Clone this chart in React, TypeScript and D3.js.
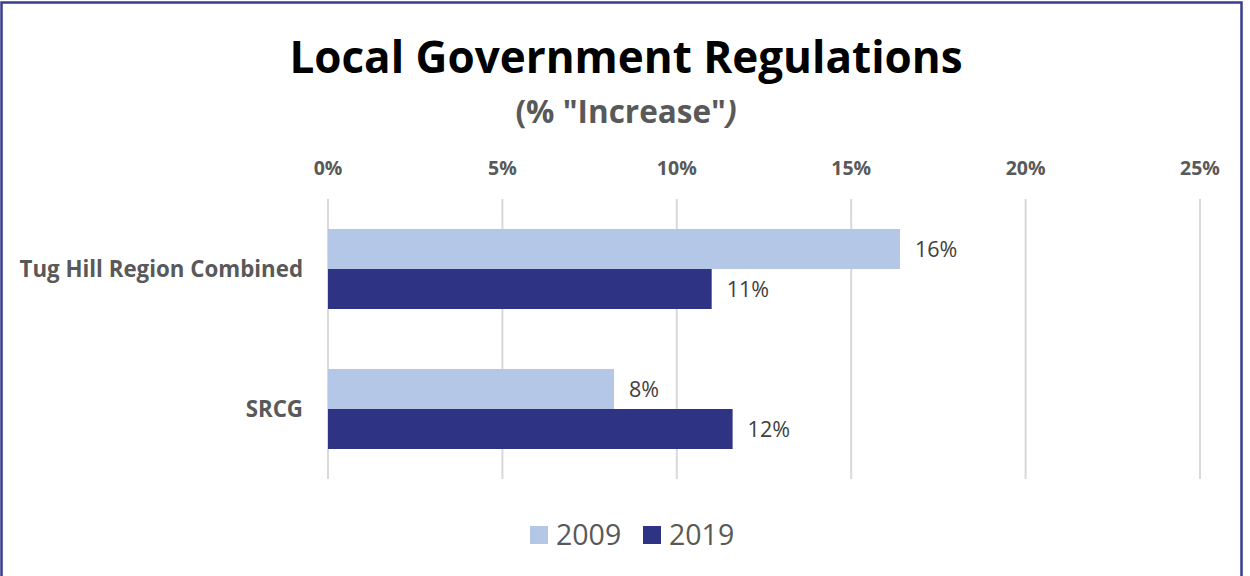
import React from "react";
import * as d3 from "d3";

const categories = ["Tug Hill Region Combined", "SRCG"];
const seriesNames = ["2009", "2019"];
const values2009 = [16.4, 8.2];
const values2019 = [11.0, 11.6];
const valueLabels2009 = ["16%", "8%"];
const valueLabels2019 = ["11%", "12%"];
const xTicks = [0, 5, 10, 15, 20, 25];
const colors = ["#B4C7E7", "#2E3383"];

const W = 1250;
const H = 576;
const FONT = "'Open Sans', 'Liberation Sans', sans-serif";

export default function App() {
  const x = d3.scaleLinear().domain([0, 25]).range([328, 1200]);
  const y0 = d3.scaleBand().domain(categories).range([199, 479]).paddingInner(0).paddingOuter(0);
  const bandPad = 30;
  const y1 = d3
    .scaleBand()
    .domain(seriesNames)
    .range([bandPad, y0.bandwidth() - bandPad]);
  const series = [values2009, values2019];
  const labels = [valueLabels2009, valueLabels2019];

  return (
    <svg width={W} height={H} style={{ position: "absolute", left: 0, top: 0 }}>
      <rect x={0} y={0} width={W} height={H} fill="#fff" />
      <rect x={1.5} y={2.5} width={1240} height={H + 10} fill="none" stroke="#383D8C" strokeWidth={2.5} />
      <text x={626} y={73} textAnchor="middle" fontFamily={FONT} fontWeight={700} fontSize={44} fill="#000">
        Local Government Regulations
      </text>
      <text x={626} y={123} textAnchor="middle" fontFamily={FONT} fontWeight={700} fontSize={31.5} fill="#595959">
        (% "Increase"<tspan fontStyle="italic">)</tspan>
      </text>
      {xTicks.map((t) => (
        <g key={t}>
          <line x1={x(t)} x2={x(t)} y1={199} y2={479} stroke="#D9D9D9" strokeWidth={2} />
          <text x={x(t)} y={175} textAnchor="middle" fontFamily={FONT} fontWeight={700} fontSize={19.5} fill="#595959">
            {t}%
          </text>
        </g>
      ))}
      {categories.map((c, ci) => (
        <g key={c} transform={`translate(0,${y0(c)})`}>
          <text
            x={303}
            y={y0.bandwidth() / 2}
            dy="0.35em"
            textAnchor="end"
            fontFamily={FONT}
            fontWeight={700}
            fontSize={22.3}
            fill="#595959"
          >
            {c}
          </text>
          {seriesNames.map((s, si) => (
            <g key={s}>
              <rect
                x={x(0)}
                y={y1(s)}
                width={x(series[si][ci]) - x(0)}
                height={y1.bandwidth()}
                fill={colors[si]}
              />
              <text
                x={x(series[si][ci]) + 15}
                y={(y1(s) as number) + y1.bandwidth() / 2}
                dy="0.35em"
                fontFamily={FONT}
                fontSize={21.5}
                fill="#404040"
              >
                {labels[si][ci]}
              </text>
            </g>
          ))}
        </g>
      ))}
      {seriesNames.map((s, si) => (
        <g key={s} transform={`translate(${530 + si * 113},0)`}>
          <rect x={0} y={526} width={18} height={18} fill={colors[si]} />
          <text x={26} y={545} fontFamily={FONT} fontSize={28.5} fill="#595959">
            {s}
          </text>
        </g>
      ))}
    </svg>
  );
}
